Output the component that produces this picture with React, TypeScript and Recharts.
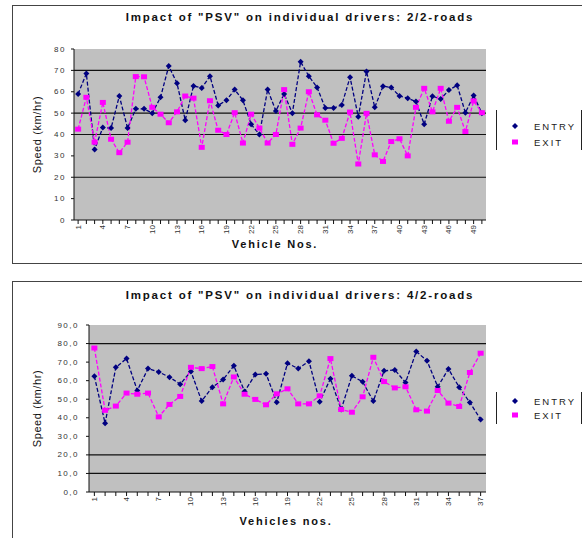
import { CartesianGrid, Label, Legend, Line, LineChart, XAxis, YAxis } from "recharts";

const FONT = "'Liberation Sans', Arial, sans-serif";

// 2/2-roads, vehicles 1..50 (km/hr)
const entry22 = [
  59, 68.5, 33, 43.3, 43, 58, 43, 52, 52, 50,
  57.4, 72, 64, 46.7, 62.7, 61.8, 67.3, 53.6, 56, 61,
  56, 44.8, 40, 61, 51, 59, 50, 74, 67.3, 62,
  52.4, 52.4, 53.8, 66.8, 48.3, 69.5, 52.7, 62.6, 62, 58,
  57, 55.4, 44.8, 57.9, 56.6, 60.8, 63, 50.2, 58.2, 50,
];
const exit22 = [
  42.5, 57.4, 36.4, 55, 37.8, 31.5, 36.4, 67.1, 67, 52.7,
  49.5, 45.5, 50.6, 58, 57, 34, 55.8, 42, 40, 50.2,
  36, 49.5, 43, 36, 40, 61, 35.4, 43, 60, 49.2,
  46.7, 35.9, 38.2, 50.5, 26.2, 49.9, 30.5, 27.4, 36.7, 38,
  30, 52.7, 61.6, 50.6, 61.6, 46.2, 52.7, 41.4, 55.7, 50.2,
];

// 4/2-roads, vehicles 1..37 (km/hr)
const entry42 = [
  62.4, 37, 67.2, 71.9, 54.7, 66.5, 64.7, 61.9, 58.1, 65,
  49, 56.5, 60.6, 68, 54.2, 63.3, 63.7, 48.4, 69.4, 66.5,
  70.5, 48.6, 61.1, 44.5, 62.6, 59.4, 49, 65.3, 65.8, 59,
  75.7, 70.8, 56.7, 66.3, 56.5, 48.2, 39.1,
];
const exit42 = [
  77.6, 44, 46.3, 53.3, 52.7, 53.3, 40.5, 47.2, 51.5, 67.2,
  66.5, 67.6, 47.5, 62, 52.7, 49.9, 47, 52.9, 55.6, 47.5,
  47.5, 51.8, 71.9, 44.5, 43, 51.3, 72.6, 59.5, 56.1, 56.7,
  44.3, 43.6, 54.7, 47.9, 46.1, 64.4, 74.8,
];

const ticks22 = [0, 10, 20, 30, 40, 50, 60, 70, 80];
const ticks42 = [0, 10, 20, 30, 40, 50, 60, 70, 80, 90];

// gridlines that are still visible in the scanned original
const grid22 = [20, 40, 50, 70];
const grid42 = [10, 20, 80];

type LegendBox = { top: number; height: number; pad: number; row: number };

type ChartProps = {
  title: string;
  xTitle: string;
  xTitleX: number;
  entry: number[];
  exit: number[];
  ticks: number[];
  grid: number[];
  formatY: (v: number) => string;
  top: number;
  height: number;
  margin: { top: number; right: number; left: number; bottom: number };
  yTickMargin: number;
  legend: LegendBox;
};

function DiamondDot(props: any) {
  const { cx, cy, index } = props;
  if (cx == null || cy == null) return null;
  const r = 3;
  return (
    <polygon
      key={`d-${index}`}
      points={`${cx},${cy - r} ${cx + r},${cy} ${cx},${cy + r} ${cx - r},${cy}`}
      fill="#000080"
    />
  );
}

function SquareDot(props: any) {
  const { cx, cy, index } = props;
  if (cx == null || cy == null) return null;
  return <rect key={`s-${index}`} x={cx - 3} y={cy - 2.5} width={6} height={5} fill="#ff00ff" />;
}

function VehicleTick(props: any) {
  const { x, y, payload, index } = props;
  if (index % 3 !== 0) return null;
  return (
    <text
      x={x}
      y={y}
      transform={`rotate(-90 ${x} ${y})`}
      textAnchor="end"
      dominantBaseline="central"
      fontSize={8}
      fontFamily={FONT}
      fill="#333"
    >
      {payload.value}
    </text>
  );
}

function makeYTick(formatY: (v: number) => string) {
  return (props: any) => {
    const { x, y, payload } = props;
    return (
      <text
        x={x}
        y={y}
        textAnchor="end"
        dominantBaseline="central"
        fontSize={8}
        fontFamily={FONT}
        fill="#333"
        style={{ letterSpacing: 1.5 }}
      >
        {formatY(payload.value)}
      </text>
    );
  };
}

function SpeedLabel(props: any) {
  const { viewBox } = props;
  const cy = viewBox.y + viewBox.height / 2;
  return (
    <text
      x={37}
      y={cy}
      transform={`rotate(-90 37 ${cy})`}
      textAnchor="middle"
      dominantBaseline="central"
      fontSize={11}
      fontFamily={FONT}
      fill="#111"
      style={{ letterSpacing: 0.6 }}
    >
      Speed (km/hr)
    </text>
  );
}

function makeLegend(box: LegendBox) {
  return (props: any) => {
    const payload = props.payload ?? [];
    return (
      <div
        style={{
          borderLeft: "1.5px solid #222",
          borderRight: "1.5px solid #222",
          height: box.height,
          paddingTop: box.pad,
          boxSizing: "border-box",
        }}
      >
        {payload.map((item: any) => (
          <div key={item.value} style={{ display: "flex", alignItems: "center", height: box.row }}>
            <svg width={37} height={box.row}>
              {item.value === "ENTRY" ? (
                <polygon
                  points={`18,${box.row / 2 - 3} 21,${box.row / 2} 18,${box.row / 2 + 3} 15,${box.row / 2}`}
                  fill="#000080"
                />
              ) : (
                <rect x={15} y={box.row / 2 - 2.5} width={6} height={5} fill="#ff00ff" />
              )}
            </svg>
            <span style={{ fontFamily: FONT, fontSize: 9.5, letterSpacing: 2, color: "#222" }}>
              {item.value}
            </span>
          </div>
        ))}
      </div>
    );
  };
}

function SpeedChart(p: ChartProps) {
  const data = p.entry.map((value, i) => ({ n: i + 1, entry: value, exit: p.exit[i] }));
  const yMax = p.ticks[p.ticks.length - 1];
  // Excel puts each point in the middle of its category slot
  const plotWidth = 582 - p.margin.left - 30 - p.margin.right;
  const halfSlot = plotWidth / data.length / 2;

  return (
    <div style={{ position: "absolute", left: 0, top: p.top, width: 582, height: p.height }}>
      <div
        style={{
          position: "absolute",
          left: 0,
          width: 600,
          top: p.top === 0 ? 11 : 14,
          textAlign: "center",
          fontFamily: FONT,
          fontSize: 11.5,
          fontWeight: "bold",
          letterSpacing: 1.8,
          color: "#111",
        }}
      >
        {p.title}
      </div>
      <LineChart width={582} height={p.height} data={data} margin={p.margin}>
        <CartesianGrid
          vertical={false}
          horizontalValues={p.grid}
          stroke="#111"
          strokeWidth={1.2}
          fill="#c0c0c0"
          fillOpacity={1}
        />
        <XAxis
          dataKey="n"
          type="category"
          interval={0}
          height={20}
          padding={{ left: halfSlot, right: halfSlot }}
          tickSize={4}
          tickMargin={1}
          axisLine={{ stroke: "#111" }}
          tickLine={{ stroke: "#111" }}
          tick={VehicleTick}
        />
        <YAxis
          width={30}
          domain={[0, yMax]}
          ticks={p.ticks}
          interval={0}
          tickSize={3}
          tickMargin={p.yTickMargin}
          axisLine={{ stroke: "#111" }}
          tickLine={{ stroke: "#111" }}
          tick={makeYTick(p.formatY)}
        >
          <Label content={SpeedLabel} />
        </YAxis>
        <Legend
          layout="vertical"
          align="center"
          verticalAlign="middle"
          wrapperStyle={{ left: 496, top: p.legend.top, width: 86 }}
          content={makeLegend(p.legend)}
        />
        <Line
          type="linear"
          dataKey="entry"
          name="ENTRY"
          stroke="#000080"
          strokeWidth={1.3}
          strokeDasharray="4 2"
          dot={DiamondDot}
          isAnimationActive={false}
        />
        <Line
          type="linear"
          dataKey="exit"
          name="EXIT"
          stroke="#ff00ff"
          strokeWidth={1.3}
          strokeDasharray="4 2"
          dot={SquareDot}
          isAnimationActive={false}
        />
      </LineChart>
      <div
        style={{
          position: "absolute",
          left: p.xTitleX - 100,
          width: 200,
          top: p.height - (p.top === 0 ? 24 : 23),
          textAlign: "center",
          fontFamily: FONT,
          fontSize: 11,
          fontWeight: "bold",
          letterSpacing: 1.8,
          color: "#111",
        }}
      >
        {p.xTitle}
      </div>
    </div>
  );
}

export default function App() {
  return (
    <div
      style={{
        position: "absolute",
        left: 0,
        top: 0,
        width: 582,
        height: 538,
        overflow: "hidden",
        background: "#fff",
      }}
    >
      <div
        style={{
          position: "absolute",
          left: 12,
          top: 5,
          width: 600,
          height: 257,
          border: "1.5px solid #444",
        }}
      />
      <div
        style={{
          position: "absolute",
          left: 12,
          top: 281,
          width: 600,
          height: 300,
          border: "1.5px solid #444",
        }}
      />
      <SpeedChart
        title={'Impact of "PSV" on individual drivers: 2/2-roads'}
        xTitle="Vehicle Nos."
        xTitleX={275}
        entry={entry22}
        exit={exit22}
        ticks={ticks22}
        grid={grid22}
        formatY={(v) => String(v)}
        top={0}
        height={262}
        margin={{ top: 49, right: 96, left: 44, bottom: 22 }}
        yTickMargin={5}
        legend={{ top: 110, height: 40, pad: 8, row: 16 }}
      />
      <SpeedChart
        title={'Impact of "PSV" on individual drivers: 4/2-roads'}
        xTitle="Vehicles nos."
        xTitleX={286}
        entry={entry42}
        exit={exit42}
        ticks={ticks42}
        grid={grid42}
        formatY={(v) => v.toFixed(1).replace(".", ",")}
        top={275}
        height={263}
        margin={{ top: 50, right: 96, left: 59, bottom: 26 }}
        yTickMargin={7}
        legend={{ top: 117, height: 32, pad: 2, row: 14 }}
      />
    </div>
  );
}
